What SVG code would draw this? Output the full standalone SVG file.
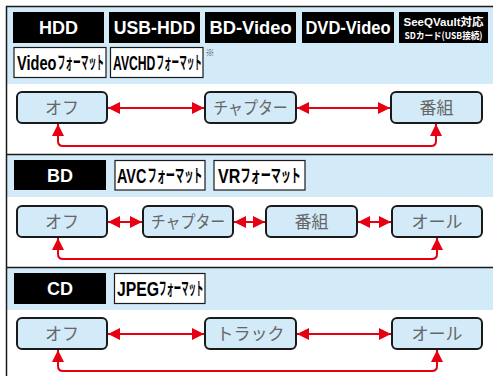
<svg xmlns="http://www.w3.org/2000/svg" width="493" height="376" viewBox="0 0 493 376">
<defs>
<style>
.band{fill:#d3eaf8}
.sep{stroke:#1a1a1a;stroke-width:1.5;fill:none}
.blk{fill:#000}
.wbox{fill:#fff;stroke:#1a1a1a;stroke-width:1.2}
.ht{font-family:"Liberation Sans",Arial,sans-serif;font-weight:bold;font-size:18px;fill:#fff;text-anchor:middle}
.lt{font-family:"Liberation Sans",Arial,sans-serif;font-weight:bold;font-size:20px;fill:#000}
.kt{font-family:"Noto Sans CJK JP",sans-serif;font-weight:bold;font-size:18px;fill:#000}
.node rect{fill:#d3eaf8;stroke:#1a1a1a;stroke-width:2}
.node text{font-family:"Noto Sans CJK JP",sans-serif;font-size:17px;fill:#666;text-anchor:middle}
.ar{stroke:#e60012;stroke-width:2;fill:none;marker-start:url(#ah);marker-end:url(#ah)}
</style>
<marker id="ah" markerUnits="userSpaceOnUse" markerWidth="13" markerHeight="13" refX="12" refY="6.5" orient="auto-start-reverse" viewBox="0 0 13 13">
<path d="M0,0.5 L12,6.5 L0,12.5 z" fill="#e60012"/>
</marker>
</defs>
<rect x="0" y="0" width="493" height="376" fill="#fff"/>
<rect class="band" x="7" y="7" width="486" height="77"/>
<rect class="band" x="7" y="155" width="486" height="42"/>
<rect class="band" x="7" y="268" width="486" height="42"/>
<path class="sep" d="M6.5,376 V6.5 H493"/>
<path class="sep" d="M6.5,154.5 H493 M6.5,267.5 H493"/>

<g id="header1">
<rect class="blk" x="13" y="12" width="91" height="31"/>
<text class="ht" x="58.5" y="34">HDD</text>
<rect class="blk" x="109" y="12" width="91" height="31"/>
<text class="ht" transform="translate(154.5,34) scale(0.98,1)">USB-HDD</text>
<rect class="blk" x="205" y="12" width="91" height="31"/>
<text class="ht" transform="translate(250.5,34) scale(1.02,1)">BD-Video</text>
<rect class="blk" x="302" y="12" width="92" height="31"/>
<text class="ht" transform="translate(348,34) scale(0.92,1)">DVD-Video</text>
<rect class="blk" x="399" y="12" width="89" height="31"/>
<text x="443.5" y="26" font-family="Liberation Sans,Noto Sans CJK JP,sans-serif" font-weight="bold" font-size="11" fill="#fff" text-anchor="middle" textLength="80" lengthAdjust="spacingAndGlyphs">SeeQVault対応</text>
<text transform="translate(443.5,39) scale(0.9,1)" font-family="Noto Sans CJK JP,sans-serif" font-weight="bold" font-size="9.5" fill="#fff" text-anchor="middle">SDカード(USB接続)</text>
<rect class="wbox" x="14" y="47.5" width="92" height="30"/>
<text class="lt" transform="translate(17,70) scale(0.73,1)">Video</text>
<text class="kt" transform="translate(57.5,69) scale(0.43,1)">フォーマット</text>
<rect class="wbox" x="110.5" y="47.5" width="92.5" height="30"/>
<text class="lt" transform="translate(113,70) scale(0.61,1)">AVCHD</text>
<text class="kt" transform="translate(156.5,69) scale(0.42,1)">フォーマット</text>
<text x="205.5" y="56" font-family="Noto Sans CJK JP,sans-serif" font-size="9" fill="#444">※</text>
</g>

<g id="header2">
<rect class="blk" x="14" y="160" width="92" height="30"/>
<text class="ht" x="60" y="182">BD</text>
<rect class="wbox" x="115" y="160.5" width="90" height="29.5"/>
<text class="lt" transform="translate(117,183) scale(0.72,1)">AVC</text>
<text class="kt" transform="translate(147.5,182) scale(0.51,1)">フォーマット</text>
<rect class="wbox" x="214" y="160.5" width="91" height="29.5"/>
<text class="lt" transform="translate(218,183) scale(0.8,1)">VR</text>
<text class="kt" transform="translate(240.5,182) scale(0.56,1)">フォーマット</text>
</g>

<g id="header3">
<rect class="blk" x="14" y="273" width="92" height="31"/>
<text class="ht" x="60" y="295">CD</text>
<rect class="wbox" x="114.5" y="273.5" width="90.5" height="30"/>
<text class="lt" transform="translate(117,296) scale(0.79,1)">JPEG</text>
<text class="kt" transform="translate(159,295) scale(0.41,1)">フォーマット</text>
</g>

<g id="s1-off" class="node"><rect x="17" y="92" width="90" height="31" rx="5"/><text x="62" y="114">オフ</text></g>
<g id="s1-chapter" class="node"><rect x="205" y="92" width="91" height="31" rx="5"/><text transform="translate(250.5,114) scale(0.88,1)">チャプター</text></g>
<g id="s1-bangumi" class="node"><rect x="391" y="92" width="91" height="31" rx="5"/><text x="436.5" y="114">番組</text></g>

<g id="s2-off" class="node"><rect x="17" y="206" width="90" height="31" rx="5"/><text x="62" y="228">オフ</text></g>
<g id="s2-chapter" class="node"><rect x="143" y="206" width="90" height="31" rx="5"/><text transform="translate(188,228) scale(0.88,1)">チャプター</text></g>
<g id="s2-bangumi" class="node"><rect x="266" y="206" width="91" height="31" rx="5"/><text x="311.5" y="228">番組</text></g>
<g id="s2-all" class="node"><rect x="392" y="206" width="90" height="31" rx="5"/><text x="437" y="228">オール</text></g>

<g id="s3-off" class="node"><rect x="17" y="318" width="90" height="31" rx="5"/><text x="62" y="340">オフ</text></g>
<g id="s3-track" class="node"><rect x="205" y="318" width="91" height="31" rx="5"/><text x="250.5" y="340">トラック</text></g>
<g id="s3-all" class="node"><rect x="392" y="318" width="90" height="31" rx="5"/><text x="437" y="340">オール</text></g>

<g id="connectors">
<path class="ar" d="M108,108 H204"/>
<path class="ar" d="M297,108 H390"/>
<path class="ar" d="M58,124 V141 Q58,146 63,146 H431 Q436,146 436,141 V124"/>
<path class="ar" d="M108,222 H142"/>
<path class="ar" d="M234,222 H265"/>
<path class="ar" d="M358,222 H391"/>
<path class="ar" d="M58,238 V254 Q58,259 63,259 H432 Q437,259 437,254 V238"/>
<path class="ar" d="M108,334 H204"/>
<path class="ar" d="M297,334 H391"/>
<path class="ar" d="M58,350 V366 Q58,371 63,371 H432 Q437,371 437,366 V350"/>
</g>
</svg>
